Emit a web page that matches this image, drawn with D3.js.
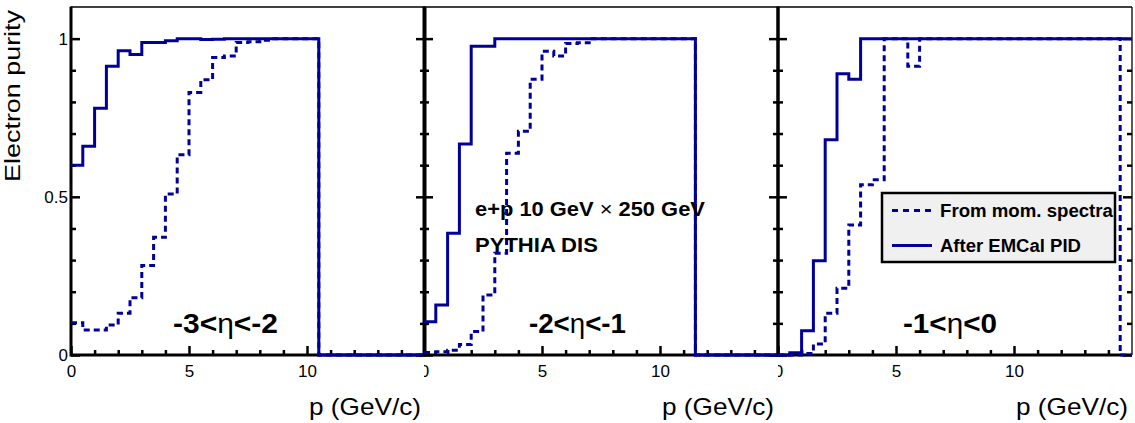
<!DOCTYPE html>
<html>
<head>
<meta charset="utf-8">
<script src="https://cdn.jsdelivr.net/npm/d3@7"></script>
<style>
  body { margin: 0; background: #fff; }
  svg { display: block; }
  text { font-family: "Liberation Sans", Arial, Helvetica, sans-serif; fill: #000; }
</style>
</head>
<body>
<div id="chart"></div>
<script>
// histograms: 30 bins of 0.5 GeV/c from 0 to 15
var binWidth = 0.5;
var xMax = 15;
var etaLow = ["-3", "-2", "-1"];
var etaHigh = ["-2", "-1", "0"];

// "From mom. spectra" (dashed)
var momEta1 = [0.102, 0.079, 0.079, 0.095, 0.132, 0.181, 0.283, 0.372, 0.509, 0.633,
               0.83, 0.87, 0.94, 0.945, 0.988, 0.99, 0.995, 1, 1, 1,
               1, 0, 0, 0, 0, 0, 0, 0, 0, 0];
var momEta2 = [0.008, 0.01, 0.015, 0.033, 0.074, 0.19, 0.322, 0.638, 0.707, 0.872,
               0.96, 0.945, 0.985, 0.987, 1, 1, 1, 1, 1, 1,
               1, 1, 1, 0, 0, 0, 0, 0, 0, 0];
var momEta3 = [0, 0, 0.005, 0.035, 0.132, 0.211, 0.411, 0.538, 0.554, 1,
               1, 0.913, 1, 1, 1, 1, 1, 1, 1, 1,
               1, 1, 1, 1, 1, 1, 1, 1, 1, 0];
// "After EMCal PID" (solid)
var pidEta1 = [0.6, 0.66, 0.78, 0.913, 0.962, 0.95, 0.988, 0.988, 0.993, 1,
               1, 0.997, 0.998, 1, 1, 1, 1, 1, 1, 1,
               1, 0, 0, 0, 0, 0, 0, 0, 0, 0];
var pidEta2 = [0.105, 0.158, 0.385, 0.667, 0.976, 0.976, 1, 1, 1, 1,
               1, 1, 1, 1, 1, 1, 1, 1, 1, 1,
               1, 1, 1, 0, 0, 0, 0, 0, 0, 0];
var pidEta3 = [0, 0.007, 0.077, 0.298, 0.68, 0.889, 0.872, 1, 1, 1,
               1, 1, 1, 1, 1, 1, 1, 1, 1, 1,
               1, 1, 1, 1, 1, 1, 1, 1, 1, 1];

var momSeries = [momEta1, momEta2, momEta3];
var pidSeries = [pidEta1, pidEta2, pidEta3];
var legendLabels = ["From mom. spectra", "After EMCal PID"];

var W = 1135, H = 423;
var color = "#000099";
var plotTop = 7, plotBottom = 355;
var panelLeft = [71, 424, 778],
    panelWidth = 354,
    padEdges = [0, 424, 778, W];

var svg = d3.select("#chart").append("svg")
    .attr("width", W).attr("height", H);

var yScale = d3.scaleLinear().domain([0, 1.1]).range([plotBottom, plotTop]);

// squeeze/stretch a text horizontally to a measured width
function fitText(t, x, y, w, rot) {
  var len = t.node().getComputedTextLength();
  var k = w / len;
  t.attr("transform", "translate(" + x + "," + y + ")" + (rot ? " rotate(-90)" : "") + " scale(" + k + ",1)");
}

var defs = svg.append("defs");

panelLeft.forEach(function (L, i) {
  var xScale = d3.scaleLinear().domain([0, xMax]).range([L, L + panelWidth]);
  var R = L + panelWidth;
  var g = svg.append("g").attr("class", "panel");

  defs.append("clipPath").attr("id", "pad" + i)
    .append("rect")
      .attr("x", padEdges[i]).attr("y", 0)
      .attr("width", padEdges[i + 1] - padEdges[i]).attr("height", H);

  var axes = g.append("g").attr("clip-path", "url(#pad" + i + ")");

  // x axis: minor every 1, major every 5
  var minorX = d3.range(1, xMax).filter(function (v) { return v % 5 !== 0; });
  axes.append("g")
      .attr("transform", "translate(0," + plotBottom + ")")
      .call(d3.axisBottom(xScale).tickValues(minorX).tickSize(-5).tickFormat(""));
  axes.append("g")
      .attr("class", "x-major")
      .attr("transform", "translate(0," + plotBottom + ")")
      .call(d3.axisBottom(xScale).tickValues([0, 5, 10]).tickSize(-9).tickPadding(10)
            .tickFormat(d3.format("d")));

  // y axis left and right, ticks inward
  var minorY = d3.range(1, 11).map(function (v) { return v / 10; })
                 .filter(function (v) { return v !== 0.5 && v !== 1; });
  axes.append("g")
      .attr("transform", "translate(" + L + ",0)")
      .call(d3.axisLeft(yScale).tickValues(minorY).tickSize(-5).tickFormat(""));
  axes.append("g")
      .attr("class", "y-major")
      .attr("transform", "translate(" + L + ",0)")
      .call(d3.axisLeft(yScale).tickValues([0, 0.5, 1]).tickSize(-9).tickPadding(3)
            .tickFormat(i === 0 ? d3.format("") : ""));
  axes.append("g")
      .attr("transform", "translate(" + R + ",0)")
      .call(d3.axisRight(yScale).tickValues(minorY).tickSize(-5).tickFormat(""));
  axes.append("g")
      .attr("transform", "translate(" + R + ",0)")
      .call(d3.axisRight(yScale).tickValues([0, 0.5, 1]).tickSize(-9).tickFormat(""));

  axes.selectAll(".domain").remove();
  axes.selectAll(".tick line").attr("stroke", "#000").attr("stroke-width", 2.5);
  axes.selectAll(".tick text").attr("font-size", 17).attr("fill", "#000")
      .style("font-family", "'Liberation Sans', Arial, sans-serif");

  // frame
  g.append("line").attr("x1", L).attr("x2", R).attr("y1", plotTop).attr("y2", plotTop)
      .attr("stroke", "#000").attr("stroke-width", 1.3);
  g.append("line").attr("x1", R).attr("x2", R).attr("y1", plotTop).attr("y2", plotBottom)
      .attr("stroke", "#000").attr("stroke-width", i === 2 ? 1.3 : 3);
  g.append("line").attr("x1", L).attr("x2", L).attr("y1", plotTop - 0.5).attr("y2", plotBottom + 1.5)
      .attr("stroke", "#000").attr("stroke-width", 3);
  g.append("line").attr("x1", L).attr("x2", R).attr("y1", plotBottom).attr("y2", plotBottom)
      .attr("stroke", "#000").attr("stroke-width", 3);

  // histograms
  var line = d3.line()
      .x(function (d) { return xScale(d[0]); })
      .y(function (d) { return yScale(d[1]); })
      .curve(d3.curveStepAfter);
  function pts(vals) {
    var p = vals.map(function (v, j) { return [j * binWidth, v]; });
    p.push([xMax, vals[vals.length - 1]]);
    return p;
  }
  g.append("path").attr("d", line(pts(pidSeries[i])))
      .attr("fill", "none").attr("stroke", color).attr("stroke-width", 3);
  g.append("path").attr("d", line(pts(momSeries[i])))
      .attr("fill", "none").attr("stroke", color).attr("stroke-width", 3)
      .attr("stroke-dasharray", "6,4");

  // eta label
  var eta = g.append("text").attr("font-size", 28).attr("font-weight", "bold");
  eta.append("tspan").text(etaLow[i] + "<");
  eta.append("tspan").attr("font-weight", "normal").text("\u03b7");
  eta.append("tspan").text("<" + etaHigh[i]);
  var etaX = [173, 529, 903];
  fitText(eta, etaX[i], 333, [105, 97, 94][i]);

  // x title
  var xt = g.append("text").attr("font-size", 23).attr("text-anchor", "end").text("p (GeV/c)");
  fitText(xt, R - 4, 415, 112);
});

// y title
var yt = svg.append("text").attr("font-size", 22).attr("text-anchor", "end").text("Electron purity");
fitText(yt, 20, 10, 172, true);

// beam / generator text
var beam = svg.append("text").attr("font-size", 21).attr("font-weight", "bold");
beam.append("tspan").text("e+p 10 GeV ");
beam.append("tspan").attr("font-weight", "normal").text("\u00d7");
beam.append("tspan").text(" 250 GeV");
fitText(beam, 475, 216, 230);
var gen = svg.append("text").attr("font-size", 21).attr("font-weight", "bold").text("PYTHIA DIS");
fitText(gen, 475, 252, 123);

// legend
var lg = svg.append("g").attr("class", "legend");
lg.append("rect").attr("x", 882).attr("y", 193).attr("width", 233).attr("height", 69)
    .attr("fill", "#f0f0f0").attr("stroke", "#000").attr("stroke-width", 2.5);
legendLabels.forEach(function (lab, j) {
  var ly = 210.5 + j * 35;
  lg.append("line").attr("x1", 892).attr("x2", 932).attr("y1", ly).attr("y2", ly)
      .attr("stroke", color).attr("stroke-width", 3)
      .attr("stroke-dasharray", j === 0 ? "6,5" : null);
  var t = lg.append("text").attr("font-size", 18.5).attr("font-weight", "bold").text(lab);
  fitText(t, 940, ly + 6, j === 0 ? 173 : 141);
});
</script>
</body>
</html>
